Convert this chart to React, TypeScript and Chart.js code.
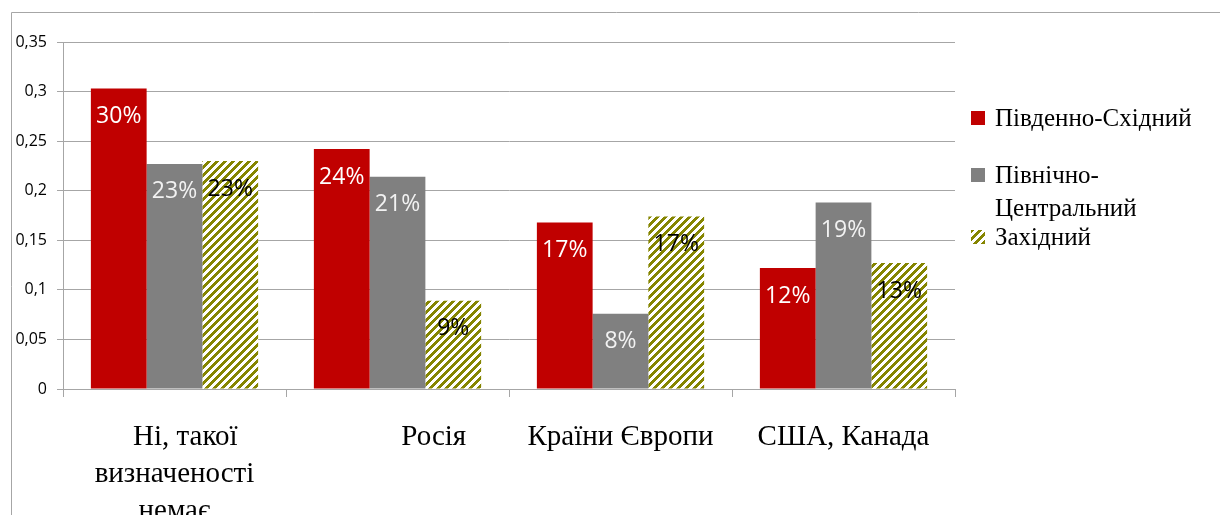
import React, { useEffect, useRef } from "react";
import { Chart, registerables } from "chart.js";

Chart.register(...registerables);

const categories: (string | string[])[] = [
  ["   Ні, такої", "визначеності", "немає"],
  "          Росія",
  "Країни Європи",
  "США, Канада",
];
const seriesNames = ["Південно-Східний", "Північно-Центральний", "Західний"];
const legendLines = [["Південно-Східний"], ["Північно-", "Центральний"], ["Західний"]];
const southEast = [0.303, 0.242, 0.168, 0.122];
const northCentral = [0.227, 0.214, 0.076, 0.188];
const western = [0.23, 0.089, 0.174, 0.127];
const yTickLabels = ["0", "0,05", "0,1", "0,15", "0,2", "0,25", "0,3", "0,35"];

const RED = "#C00000";
const GRAY = "#808080";
const OLIVE = "#858500";
const AXIS = "#a6a6a6";

function makePattern(ctx: CanvasRenderingContext2D): CanvasPattern | string {
  const c = document.createElement("canvas");
  c.width = 8;
  c.height = 8;
  const p = c.getContext("2d");
  if (!p) return OLIVE;
  p.fillStyle = "#ffffff";
  p.fillRect(0, 0, 8, 8);
  p.fillStyle = OLIVE;
  for (let x = 0; x < 8; x++) {
    for (let y = 0; y < 8; y++) {
      if ((x + y) % 8 < 4) p.fillRect(x, y, 1, 1);
    }
  }
  return ctx.createPattern(c, "repeat") || OLIVE;
}

export default function App() {
  const ref = useRef<HTMLCanvasElement | null>(null);

  useEffect(() => {
    document.body.style.margin = "0";
    document.body.style.overflow = "hidden";
    const canvas = ref.current;
    if (!canvas) return;
    const ctx = canvas.getContext("2d");
    if (!ctx) return;
    const pattern = makePattern(ctx);
    const fills = [RED, GRAY, pattern];
    const labelColors = ["#ffffff", "#f2f2f2", "#000000"];

    const framePlugin = {
      id: "frame",
      beforeDraw(chart: any) {
        const c = chart.ctx;
        c.save();
        c.fillStyle = "#ffffff";
        c.fillRect(0, 0, chart.width, chart.height);
        c.strokeStyle = AXIS;
        c.lineWidth = 1;
        c.beginPath();
        c.moveTo(11.5, chart.height + 5);
        c.lineTo(11.5, 12.5);
        c.lineTo(chart.width + 5, 12.5);
        c.stroke();
        c.restore();
      },
    };

    const dataLabelPlugin = {
      id: "dataLabels",
      afterDatasetsDraw(chart: any) {
        const c = chart.ctx;
        c.save();
        c.font = '23px "Open Sans"';
        c.textAlign = "center";
        c.textBaseline = "middle";
        chart.data.datasets.forEach((ds: any, di: number) => {
          const meta = chart.getDatasetMeta(di);
          meta.data.forEach((el: any, i: number) => {
            const v = ds.data[i] as number;
            c.fillStyle = labelColors[di];
            c.fillText(Math.round(v * 100) + "%", el.x, el.y + 28);
          });
        });
        c.restore();
      },
    };

    const legendTops = [119, 176, 238];
    const legendPlugin = {
      id: "customLegend",
      afterDraw(chart: any) {
        const c = chart.ctx;
        c.save();
        c.font = '25px "Liberation Serif"';
        c.textBaseline = "alphabetic";
        c.textAlign = "left";
        legendLines.forEach((lines, i) => {
          const base = legendTops[i] + 7;
          c.fillStyle = fills[i];
          c.fillRect(971, base - 15, 14, 14);
          c.fillStyle = "#000000";
          lines.forEach((t, li) => {
            c.fillText(t, 995, base + li * 33);
          });
        });
        c.restore();
      },
    };

    const chart = new Chart(ctx, {
      type: "bar",
      data: {
        labels: categories,
        datasets: [
          { label: seriesNames[0], data: southEast, backgroundColor: RED },
          { label: seriesNames[1], data: northCentral, backgroundColor: GRAY },
          { label: seriesNames[2], data: western, backgroundColor: pattern as any },
        ],
      },
      options: {
        animation: false,
        responsive: false,
        maintainAspectRatio: false,
        layout: { padding: { top: 42, right: 265, bottom: 0, left: 0 } },
        datasets: {
          bar: { categoryPercentage: 0.75, barPercentage: 1, borderWidth: 0 },
        },
        plugins: {
          legend: { display: false },
          tooltip: { enabled: false },
        },
        scales: {
          x: {
            offset: true,
            grid: {
              drawOnChartArea: false,
              drawTicks: true,
              tickLength: 8,
              color: AXIS,
              offset: true,
            },
            border: { display: true, color: AXIS, width: 1 },
            ticks: {
              autoSkip: false,
              maxRotation: 0,
              minRotation: 0,
              padding: 22,
              color: "#000000",
              font: { family: '"Liberation Serif"', size: 29, lineHeight: 1.28 },
            },
            afterFit(scale: any) {
              scale.height = 560 - 389;
            },
          },
          y: {
            min: 0,
            max: 0.35,
            ticks: {
              stepSize: 0.05,
              padding: 10,
              color: "#000000",
              font: { family: '"Open Sans"', size: 16 },
              callback: (_v: any, i: number) => yTickLabels[i],
            },
            grid: { color: AXIS, tickLength: 6, drawTicks: true },
            border: { display: true, color: AXIS, width: 1 },
            afterFit(scale: any) {
              scale.width = 63;
            },
          },
        },
      },
      plugins: [framePlugin, dataLabelPlugin, legendPlugin],
    });
    return () => chart.destroy();
  }, []);

  return (
    <div style={{ width: 1220, height: 515, overflow: "hidden" }}>
      <canvas ref={ref} width={1220} height={560} style={{ display: "block" }} />
    </div>
  );
}
